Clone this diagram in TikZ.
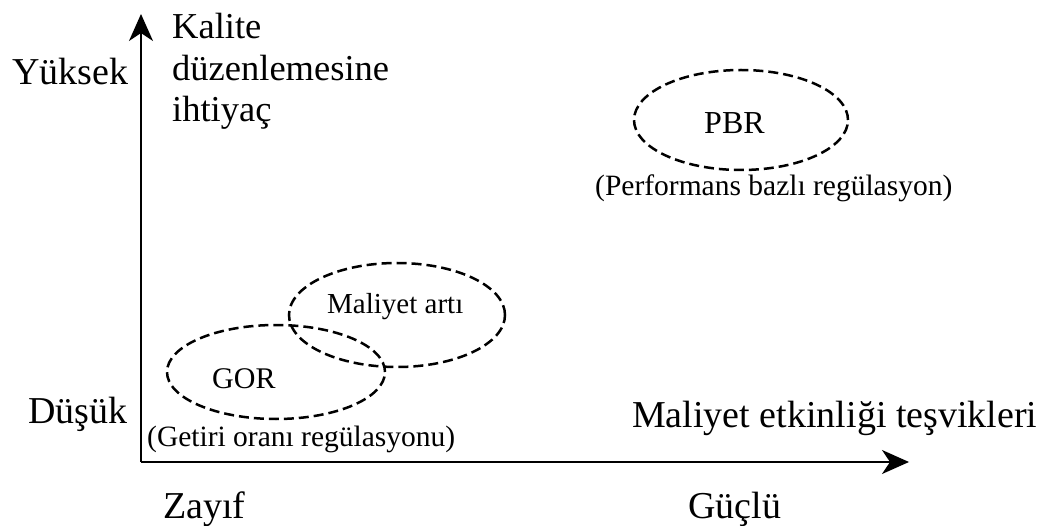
\documentclass[tikz,border=0pt]{standalone}
\usepackage{fontspec}
\setmainfont{Liberation Serif}
\usetikzlibrary{arrows.meta,shapes.geometric}
\begin{document}
\begin{tikzpicture}[x=1pt,y=-1pt,
  lbl/.style={inner sep=0pt,anchor=base west,font=\fontsize{38}{46}\selectfont},
  ylbl/.style={inner sep=0pt,anchor=base west,font=\fontsize{36.5}{41.5}\selectfont},
  small/.style={inner sep=0pt,anchor=base west,font=\fontsize{30}{36}\selectfont},
  note/.style={inner sep=0pt,anchor=base west,font=\fontsize{29.5}{34}\selectfont},
  region/.style={draw,ellipse,dash pattern=on 10pt off 5pt,line width=2.5pt,inner sep=0pt},
  axis/.style={line width=1.8pt,-{Stealth[length=27pt,width=24pt,inset=8pt]}}]
\useasboundingbox (0,0) rectangle (1059,526);
% axes
\coordinate (o) at (141,462);
\coordinate (ytip) at (141,14);
\coordinate (xtip) at (909,462);
\draw[axis] (o) -- (ytip);
\draw[axis] (o) -- (xtip);
% axis labels
\node[lbl] (high) at (12,85) {Yüksek};
\node[lbl] (low) at (28,423) {Düşük};
\node[lbl] (weak) at (163,518) {Zayıf};
\node[lbl] (strong) at (688,518) {Güçlü};
\node[lbl] (xname) at (632,427) {Maliyet etkinliği teşvikleri};
\node[ylbl] (yname1) at (172,39) {Kalite};
\node[ylbl] (yname2) at (172,80.5) {düzenlemesine};
\node[ylbl] (yname3) at (172,122) {ihtiyaç};
% regulation regions
\node[region,minimum width=214pt,minimum height=100pt] (pbr) at (741,120) {};
\node[region,minimum width=216pt,minimum height=104pt] (cost) at (397,315) {};
\node[region,minimum width=218pt,minimum height=94pt] (gor) at (276,372) {};
\node[small,font=\fontsize{32}{36}\selectfont] (pbrtxt) at (704,134) {PBR};
\node[small,font=\fontsize{29}{36}\selectfont] (costtxt) at (327,313) {Maliyet artı};
\node[small] (gortxt) at (212,388) {GOR};
\node[note] (gornote) at (147,446) {(Getiri oranı regülasyonu)};
\node[note] (pbrnote) at (595,196) {(Performans bazlı regülasyon)};
\end{tikzpicture}
\end{document}
